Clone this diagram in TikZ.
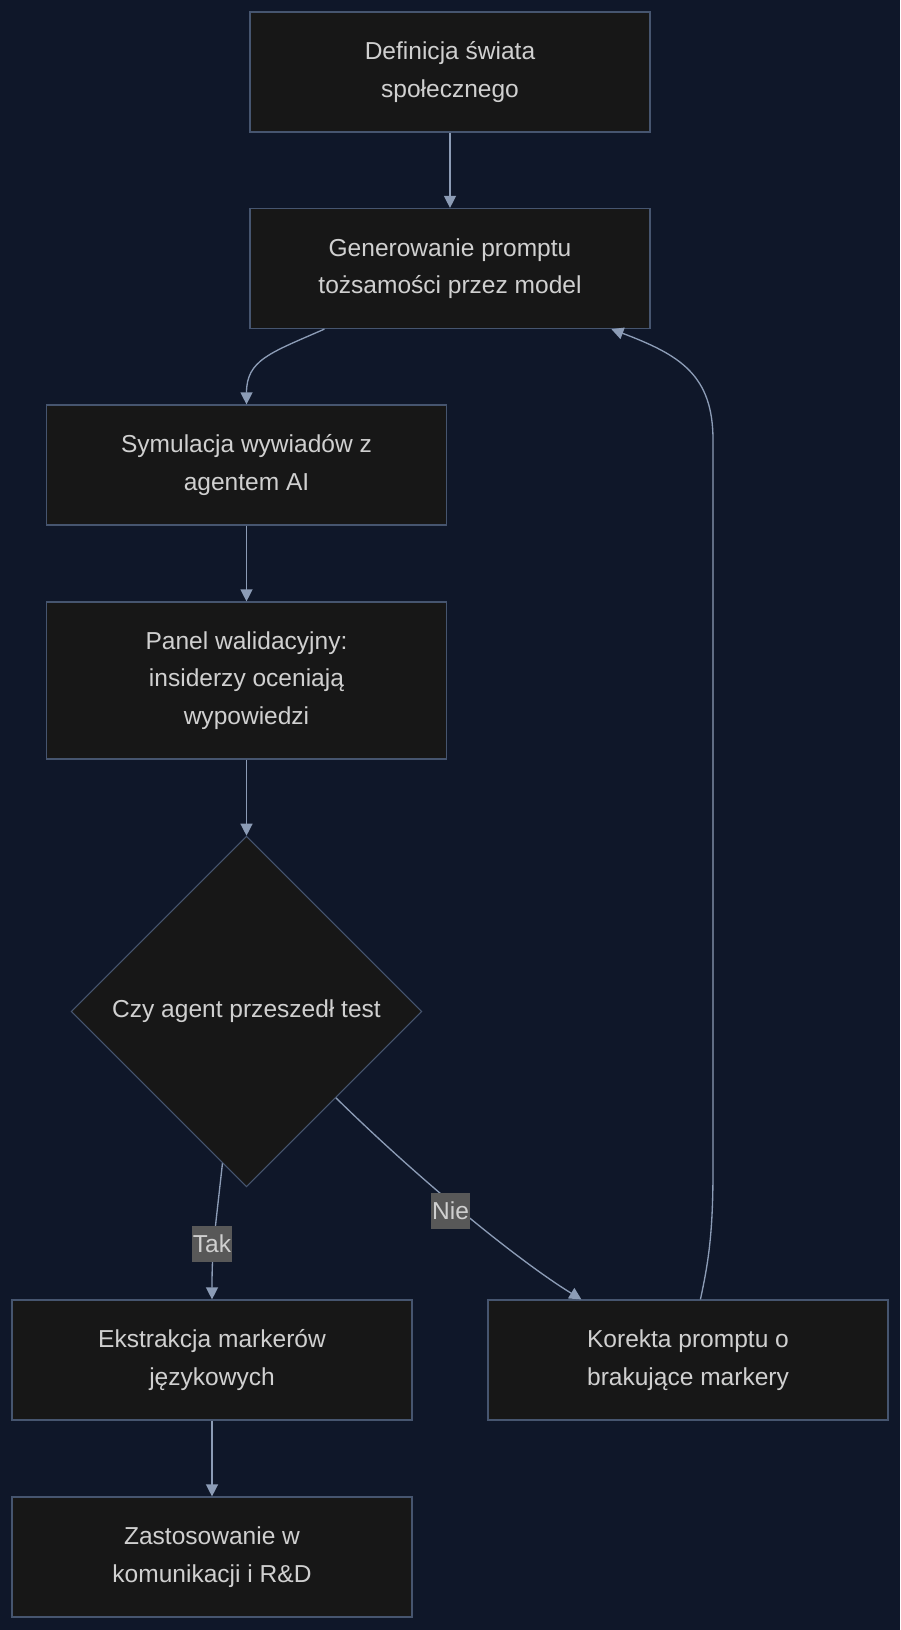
\documentclass[tikz,border=0pt]{standalone}
\usepackage{fontspec}
\setmainfont{Liberation Sans}
\usetikzlibrary{arrows.meta,shapes.geometric,calc}
\definecolor{bgnavy}{HTML}{0F1729}
\definecolor{boxfill}{HTML}{171717}
\definecolor{boxline}{HTML}{46556F}
\definecolor{edgecol}{HTML}{8C9CB6}
\definecolor{txtcol}{HTML}{D0D0D0}
\definecolor{lblfill}{HTML}{585858}
\tikzset{
  stepbox/.style={draw=boxline,fill=boxfill,line width=0.9pt,text=txtcol,
    minimum width=300pt,minimum height=90pt,align=center,inner sep=0pt,
    font=\fontsize{18.4pt}{28pt}\selectfont},
  decision/.style={diamond,draw=boxline,fill=boxfill,line width=0.7pt,text=txtcol,
    minimum size=263pt,inner sep=0pt,aspect=1,
    font=\fontsize{18.4pt}{28pt}\selectfont},
  edge/.style={draw=edgecol,line width=1pt,-{Triangle[length=9pt,width=9pt]}},
  lbl/.style={fill=lblfill,text=txtcol,inner sep=1pt,minimum height=27pt,
    font=\fontsize{18.4pt}{22pt}\selectfont}
}
\begin{document}
\begin{tikzpicture}[x=0.75pt,y=-0.75pt]
  \fill[bgnavy] (0,0) rectangle (900,1630);
  \useasboundingbox (0,0) rectangle (900,1630);
  % nodes
  \node[stepbox] (def) at (450,72) {Definicja świata\\ społecznego};
  \node[stepbox] (gen) at (450,268.5) {Generowanie promptu\\ tożsamości przez model};
  \node[stepbox] (sym) at (246.5,465) {Symulacja wywiadów z\\ agentem AI};
  \node[stepbox,minimum height=117.75pt] (pan) at (246.5,680.5) {Panel walidacyjny:\\ insiderzy oceniają\\ wypowiedzi};
  \node[decision] (test) at (246.5,1011.5) {Czy agent przeszedł test};
  \node[stepbox] (ekst) at (212,1360) {Ekstrakcja markerów\\ językowych};
  \node[stepbox] (kor) at (688,1360) {Korekta promptu o\\ brakujące markery};
  \node[stepbox] (zast) at (212,1557) {Zastosowanie w\\ komunikacji i R\&D};
  % edges
  \draw[edge] (def) -- (gen);
  \draw[edge] ($(gen.south west)+(75,0)$) .. controls (270,353) and (246.5,360) .. (sym.north);
  \draw[edge] (sym) -- (pan);
  \draw[edge] (pan) -- (test);
  \draw[edge] (test.261) .. controls (214,1240) and (212,1250) .. (ekst.north);
  \draw[edge] (test.316) .. controls (430,1190) and (525,1265) .. ($(kor.north west)+(94,0)$);
  \draw[edge] ($(kor.north west)+(213,0)$) .. controls (709,1260) and (713,1230) .. (713,1170)
    -- (713,440) .. controls (713,375) and (680,355) .. ($(gen.south west)+(362,0)$);
  \draw[edge] (ekst) -- (zast);
  % labels
  \node[lbl] (tak) at (212,1244) {Tak};
  \node[lbl] (nie) at (450.5,1211) {Nie};
\end{tikzpicture}
\end{document}
